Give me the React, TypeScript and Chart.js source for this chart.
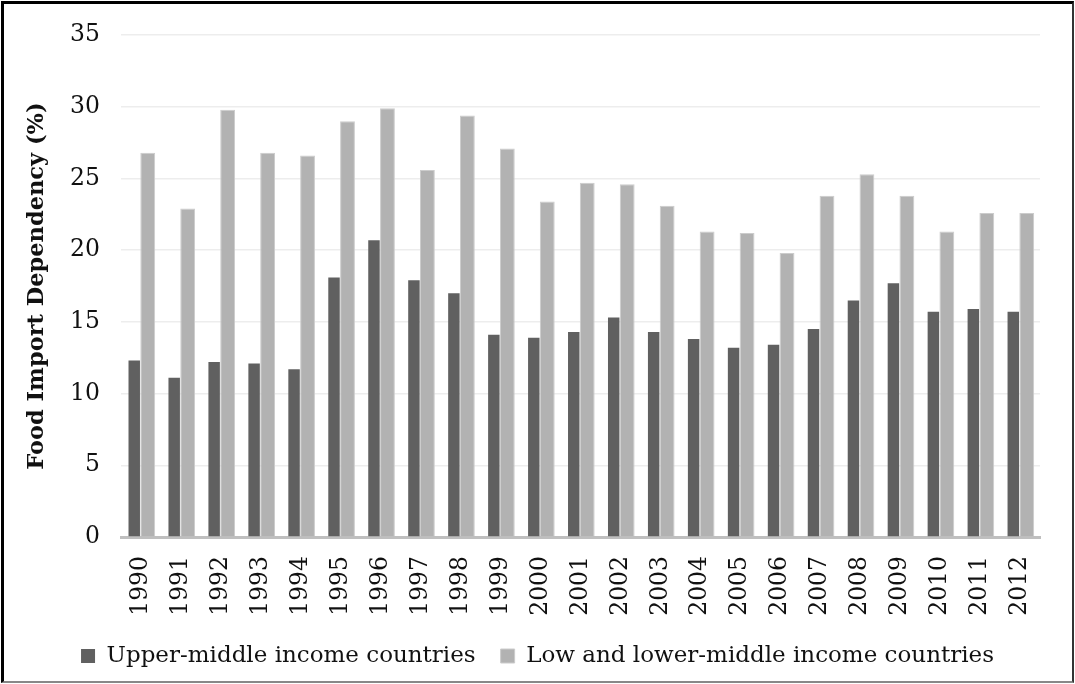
import React, { useEffect, useRef } from "react";
import { Chart, registerables } from "chart.js";

Chart.register(...registerables);

const years = ["1990","1991","1992","1993","1994","1995","1996","1997","1998","1999","2000","2001","2002","2003","2004","2005","2006","2007","2008","2009","2010","2011","2012"];
const upperMiddle = [12.3, 11.1, 12.2, 12.1, 11.7, 18.1, 20.7, 17.9, 17.0, 14.1, 13.9, 14.3, 15.3, 14.3, 13.8, 13.2, 13.4, 14.5, 16.5, 17.7, 15.7, 15.9, 15.7];
const lowerMiddle = [26.8, 22.9, 29.8, 26.8, 26.6, 29.0, 29.9, 25.6, 29.4, 27.1, 23.4, 24.7, 24.6, 23.1, 21.3, 21.2, 19.8, 23.8, 25.3, 23.8, 21.3, 22.6, 22.6];
const seriesNames = ["Upper-middle income countries", "Low and lower-middle income countries"];
const yTitle = "Food Import Dependency (%)";

const FONT = "'DejaVu Serif', serif";

const legendShift = {
  id: "legendShift",
  afterLayout(chart: any) {
    const lg = chart.legend;
    if (lg) {
      lg.left = 0;
      lg.right = chart.width;
      lg.width = chart.width;
    }
  },
};

export default function App() {
  const ref = useRef<HTMLCanvasElement | null>(null);

  useEffect(() => {
    if (!ref.current) return;
    const chart = new Chart(ref.current, {
      type: "bar",
      data: {
        labels: years,
        datasets: [
          {
            label: seriesNames[0],
            data: upperMiddle,
            backgroundColor: "#606060",
            borderColor: "#6a6a6a",
            borderWidth: 0,
            categoryPercentage: 0.675,
            barPercentage: 0.85,
          },
          {
            label: seriesNames[1],
            data: lowerMiddle,
            backgroundColor: "#b2b2b2",
            borderColor: "#cccccc",
            borderWidth: 1,
            categoryPercentage: 0.675,
            barPercentage: 1.1,
          },
        ],
      },
      plugins: [legendShift],
      options: {
        responsive: false,
        animation: false,
        devicePixelRatio: 1,
        layout: { padding: { left: 0, right: 35, top: 34, bottom: 6.5 } },
        plugins: {
          tooltip: { enabled: false },
          legend: {
            position: "bottom",
            labels: {
              color: "#111",
              font: { family: FONT, size: 23 },
              boxWidth: 14,
              boxHeight: 14,
              padding: 25,
            },
          },
        },
        scales: {
          x: {
            grid: { display: false },
            border: { display: true, color: "#bfbfbf", width: 3 },
            ticks: {
              color: "#111",
              font: { family: FONT, size: 23.5 },
              maxRotation: 90,
              minRotation: 90,
              padding: 11,
              autoSkip: false,
            },
            afterFit: (s: any) => { s.height = 82.5; },
          },
          y: {
            min: 0,
            max: 35,
            ticks: {
              stepSize: 5,
              color: "#111",
              font: { family: FONT, size: 23.5 },
              padding: 21,
            },
            grid: { color: "#ededed", lineWidth: 1.5, drawTicks: false },
            border: { display: false },
            title: {
              display: true,
              text: yTitle,
              color: "#111",
              font: { family: FONT, size: 22.5, weight: "bold" },
              padding: { top: 24, bottom: 0 },
            },
            afterFit: (s: any) => { s.width = 121; },
          },
        },
      },
    });
    return () => chart.destroy();
  }, []);

  return (
    <div style={{ position: "fixed", left: 0, top: 0, width: 1075, height: 684, background: "#fff" }}>
      <canvas ref={ref} width={1075} height={684} style={{ display: "block" }} />
      <div
        style={{
          position: "absolute",
          left: 1,
          top: 1,
          width: 1068,
          height: 677,
          borderLeft: "3px solid #000",
          borderTop: "3px solid #000",
          borderRight: "2px solid #333",
          borderBottom: "2px solid #888",
          pointerEvents: "none",
        }}
      />
    </div>
  );
}
